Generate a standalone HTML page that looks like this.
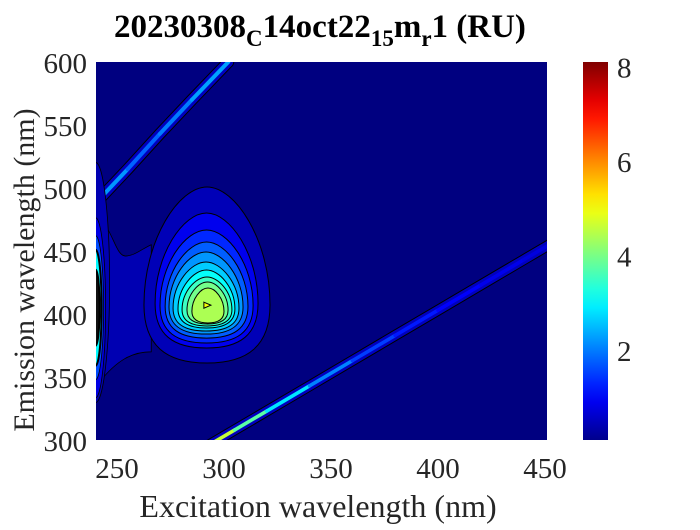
<!DOCTYPE html>
<html><head><meta charset="utf-8"><style>
body{margin:0;background:#fff;}
</style></head><body>
<svg id="c" width="700" height="525" xmlns="http://www.w3.org/2000/svg" font-family="'Liberation Serif', 'Times New Roman', serif">
<defs><clipPath id="clip"><rect x="96" y="62" width="451" height="378"/></clipPath>
<linearGradient id="cbg" x1="0" y1="1" x2="0" y2="0"></linearGradient></defs>
<text x="320" y="37" text-anchor="middle" font-size="33" font-weight="bold" fill="#000">20230308<tspan font-size="23" dy="9">C</tspan><tspan dy="-9">14oct22</tspan><tspan font-size="23" dy="9">15</tspan><tspan dy="-9">m</tspan><tspan font-size="23" dy="9">r</tspan><tspan dy="-9">1 (RU)</tspan></text>
<g id="plot" clip-path="url(#clip)"></g>
<g id="axes" fill="#262626"></g>
<text x="318" y="517" text-anchor="middle" font-size="32" fill="#262626">Excitation wavelength (nm)</text>
<text transform="translate(34,270) rotate(-90)" text-anchor="middle" font-size="30" fill="#262626">Emission wavelength (nm)</text>
<rect x="583" y="62" width="25" height="378" fill="url(#cbg)"/>
</svg>
<script>
const xTicks=[250,300,350,400,450];
const yTicks=[300,350,400,450,500,550,600];
const cbTicks=[2,4,6,8];
const cMax=8.1;
// peak contour rings: level, left ex, right ex, top em, bottom em
const ringLevels=[0.44,0.88,1.32,1.76,2.2,2.64,3.08,3.52,3.96,4.4];
const ringLeft=[262.6,267.8,270.1,272.5,274.3,276.2,278.5,280.4,282.7,285.0];
const ringRight=[321.5,315.9,313.6,311.2,308.9,307.0,305.1,303.7,301.9,300.0];
const ringTop=[500.8,480.2,466.7,457.1,449.2,441.3,434.9,429.4,425.4,420.6];
const ringBottom=[361.1,373,377,380.9,384.1,386.5,388.9,390.5,392.1,392.9];
const peakEx=292, peakEm=407, peakVal=5.0;
// Rayleigh first-order band
const band1Ex=[288,295,305,320,340,360,380,400,420,440,452];
const band1Em=[291,298,308,323,343,363,383,403,423,443,455];
const band1Val=[5.5,5,4.2,3.3,2.4,1.7,1.3,1.1,0.9,0.8,0.7];
// second-order band
const band2Ex=[240,255,270,285,302];
const band2Em=[488,515,543,570,600];
const band2Val=[2.4,2.0,1.6,2.4,2.2];
// left edge blob levels
const edgeLevels=[0.4,0.8,1.6,3,6];
const edgeRx=[14,10,8,6,4];
const edgeRy=[120,90,72,58,38];

const X0=240,X1=450,PX0=95.6,PX1=545;
const Y0=300,Y1=600,PY0=440,PY1=62;
const sx=v=>PX0+(v-X0)*(PX1-PX0)/(X1-X0);
const sy=v=>PY0-(v-Y0)*(PY0-PY1)/(Y1-Y0);
const cy=v=>444.5-v*(444.5-62)/cMax;
function jet(l){const t=Math.max(0,Math.min(1,l/cMax));const c=x=>Math.round(255*Math.max(0,Math.min(1,x)));
return `rgb(${c(1.5-Math.abs(4*t-3))},${c(1.5-Math.abs(4*t-2))},${c(1.5-Math.abs(4*t-1))})`;}
const NS="http://www.w3.org/2000/svg";
const plot=document.getElementById('plot'),axes=document.getElementById('axes');
function mk(tag,attrs,parent){const e=document.createElementNS(NS,tag);for(const k in attrs)e.setAttribute(k,attrs[k]);parent.appendChild(e);return e;}

const bg=mk('rect',{x:96,y:62,width:451,height:378,fill:jet(0)},plot);



const neck=mk('path',{d:`M${sx(240)},${sy(478)} C${sx(248)},${sy(470)} ${sx(249)},${sy(446)} ${sx(254)},${sy(446)} C${sx(258)},${sy(446)} ${sx(262)},${sy(452)} ${sx(266)},${sy(455)} L${sx(266)},${sy(370)} C${sx(258)},${sy(370)} ${sx(250)},${sy(365)} ${sx(240)},${sy(342)} Z`,fill:jet(0.4),stroke:'#000','stroke-width':0.8},plot);



function drawBand(ex,em,val,name,w){
 const pts=ex.map((v,i)=>`${sx(v)},${sy(em[i])}`).join(' ');
 const o=mk('polyline',{points:pts,fill:'none',stroke:'#000','stroke-width':w+2,'stroke-linecap':'round'},plot);
 
 
 const o2=mk('polyline',{points:pts,fill:'none',stroke:jet(0.5),'stroke-width':w,'stroke-linecap':'round'},plot);
 
 
 for(let i=0;i<ex.length-1;i++){
  const s=mk('line',{x1:sx(ex[i]),y1:sy(em[i]),x2:sx(ex[i+1]),y2:sy(em[i+1]),stroke:jet((val[i]+val[i+1])/2),'stroke-width':w*0.4,'stroke-linecap':'round'},plot);
  
  
 }
}
drawBand(band1Ex,band1Em,band1Val,'rayleigh-band',9);
drawBand(band2Ex,band2Em,band2Val,'second-order-band',10);

edgeLevels.forEach((l,i)=>{
 const e=mk('ellipse',{cx:sx(240),cy:sy(i==0?425:405),rx:edgeRx[i],ry:edgeRy[i],fill:i==edgeLevels.length-1?'#111':jet(l),stroke:'#000','stroke-width':i>=3?2:0.8},plot);
 
 
});

ringLevels.forEach((l,i)=>{
 const xl=ringLeft[i],xr=ringRight[i],yt=ringTop[i],yb=ringBottom[i];
 const xc=(xl+xr)/2, ym=yb+(yt-yb)*0.33;
 const d=`M${sx(xc)},${sy(yt)} C${sx(xc+(xr-xc)*0.45)},${sy(yt)} ${sx(xr)},${sy(ym+(yt-ym)*0.55)} ${sx(xr)},${sy(ym)} C${sx(xr)},${sy(yb+(ym-yb)*0.3)} ${sx(xc+(xr-xc)*0.65)},${sy(yb)} ${sx(xc)},${sy(yb)} C${sx(xc-(xc-xl)*0.65)},${sy(yb)} ${sx(xl)},${sy(yb+(ym-yb)*0.3)} ${sx(xl)},${sy(ym)} C${sx(xl)},${sy(ym+(yt-ym)*0.55)} ${sx(xc-(xc-xl)*0.45)},${sy(yt)} ${sx(xc)},${sy(yt)} Z`;
 const p=mk('path',{d:d,fill:jet(l),stroke:'#000','stroke-width':1},plot);
 
 
});
const pk=mk('path',{d:`M${sx(peakEx)-3},${sy(peakEm)-3} L${sx(peakEx)+4},${sy(peakEm)} L${sx(peakEx)-3},${sy(peakEm)+3} Z`,fill:jet(peakVal),stroke:'#000','stroke-width':1},plot);



xTicks.forEach(v=>{
 const t=mk('text',{x:sx(v),y:478,'text-anchor':'middle','font-size':29},axes);t.textContent=v;
 
 
});
yTicks.forEach(v=>{
 const t=mk('text',{x:87,y:sy(v)+11,'text-anchor':'end','font-size':29},axes);t.textContent=v;
 
 
});
cbTicks.forEach(v=>{
 const t=mk('text',{x:617,y:cy(v)+11,'font-size':29},axes);t.textContent=v;
 
 
 const l=mk('line',{x1:583,x2:587,y1:cy(v),y2:cy(v),stroke:'#333'},axes);
 
 
 const l2=mk('line',{x1:604,x2:608,y1:cy(v),y2:cy(v),stroke:'#333'},axes);
 
 
});
const g=document.getElementById('cbg');
const lo=(444.5-440)/(444.5-62)*cMax;
for(let i=0;i<=20;i++){const f=i/20;const l=lo+f*(cMax-lo);mk('stop',{offset:f,'stop-color':jet(l)},g);}
</script>
</body></html>
